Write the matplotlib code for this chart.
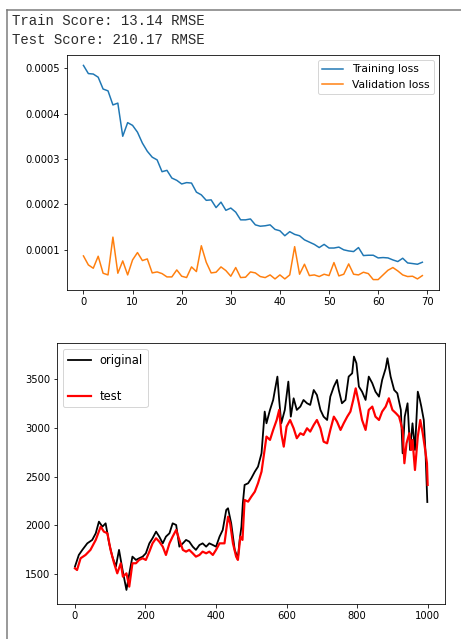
import matplotlib
matplotlib.use("Agg")
import matplotlib.pyplot as plt
from matplotlib.lines import Line2D

# training history (per epoch)
train_loss = [0.000506, 0.000488, 0.000487, 0.000480, 0.000454, 0.000450, 0.000419, 0.000423,
              0.000350, 0.000380, 0.000374, 0.000359, 0.000335, 0.000317, 0.000304, 0.000298,
              0.000272, 0.000275, 0.000258, 0.000253, 0.000245, 0.000248, 0.000247, 0.000227,
              0.000221, 0.000209, 0.000210, 0.000193, 0.000205, 0.000187, 0.000192, 0.000183,
              0.000166, 0.000166, 0.000168, 0.000155, 0.000152, 0.000153, 0.000155, 0.000145,
              0.000142, 0.000131, 0.000140, 0.000134, 0.000131, 0.000122, 0.000117, 0.000112,
              0.000105, 0.000112, 0.000104, 0.000104, 0.000106, 0.000100, 0.0000976, 0.0000962,
              0.000105, 0.0000874, 0.0000881, 0.0000881, 0.0000822, 0.0000830, 0.0000822, 0.0000778,
              0.0000742, 0.0000815, 0.0000712, 0.0000698, 0.0000683, 0.0000727]
val_loss = [0.0000866, 0.0000668, 0.0000595, 0.0000859, 0.0000485, 0.0000448, 0.000128, 0.0000485,
            0.0000756, 0.0000448, 0.0000778, 0.0000940, 0.0000764, 0.0000800, 0.0000492, 0.0000514,
            0.0000477, 0.0000404, 0.0000404, 0.0000558, 0.0000419, 0.0000390, 0.0000624, 0.0000521,
            0.000109, 0.0000727, 0.0000492, 0.0000507, 0.0000624, 0.0000543, 0.0000419, 0.0000610,
            0.0000390, 0.0000397, 0.0000514, 0.0000492, 0.0000412, 0.0000389, 0.0000448, 0.0000360,
            0.0000448, 0.0000360, 0.0000448, 0.000107, 0.0000463, 0.0000683, 0.0000433, 0.0000448,
            0.0000412, 0.0000463, 0.0000433, 0.0000720, 0.0000426, 0.0000463, 0.0000690, 0.0000463,
            0.0000448, 0.0000507, 0.0000477, 0.0000345, 0.0000345, 0.0000448, 0.0000551, 0.0000610,
            0.0000536, 0.0000448, 0.0000412, 0.0000419, 0.0000360, 0.0000433]

# closing prices over the test window
orig_day = [0, 11, 21, 35, 49, 59, 68, 78, 87, 97, 106, 116, 125, 135, 146, 156, 163, 173, 182, 192,
            201, 211, 220, 230, 239, 249, 258, 268, 277, 287, 296, 306, 315, 324, 334, 343, 353, 362,
            372, 381, 391, 400, 410, 419, 429, 434, 443, 453, 462, 467, 472, 476, 481, 491, 500, 510,
            519, 529, 534, 538, 543, 553, 562, 567, 574, 579, 585, 595, 605, 612, 620, 629, 639, 648,
            658, 667, 677, 686, 696, 705, 715, 724, 734, 743, 748, 757, 767, 776, 786, 791, 798, 805,
            814, 824, 833, 843, 852, 862, 871, 881, 886, 895, 905, 914, 924, 929, 935, 943, 950, 957,
            964, 972, 977, 982, 989, 994, 999]
orig_price = [1578, 1698, 1750, 1817, 1852, 1920, 2039, 1988, 2022, 1817, 1681, 1578, 1750, 1544, 1340,
              1544, 1681, 1647, 1664, 1681, 1715, 1817, 1869, 1937, 1886, 1817, 1886, 1920, 2022, 2005,
              1783, 1817, 1852, 1835, 1783, 1750, 1800, 1817, 1783, 1817, 1800, 1783, 1886, 1954, 2159,
              2176, 2022, 1750, 1664, 1852, 1988, 2227, 2415, 2432, 2483, 2551, 2602, 2739, 2978, 3166,
              3046, 3183, 3285, 3387, 3524, 3285, 3046, 3183, 3473, 3114, 3302, 3183, 3217, 3285, 3251,
              3234, 3387, 3336, 3183, 3114, 3080, 3319, 3422, 3490, 3387, 3251, 3285, 3524, 3558, 3729,
              3661, 3422, 3370, 3285, 3524, 3456, 3370, 3319, 3490, 3609, 3712, 3524, 3387, 3353, 3183,
              2739, 3114, 3251, 2773, 3046, 2773, 3370, 3302, 3217, 3080, 2739, 2240]

# model predictions over the same window
test_day = [0, 6, 16, 30, 44, 59, 73, 82, 92, 101, 111, 120, 130, 136, 146, 154, 163, 173, 182, 192,
            201, 211, 220, 230, 239, 249, 258, 268, 277, 287, 296, 306, 315, 324, 334, 343, 353, 362,
            372, 381, 391, 400, 410, 424, 434, 440, 448, 457, 462, 469, 475, 481, 491, 500, 510, 519,
            529, 535, 543, 553, 562, 572, 579, 585, 592, 600, 610, 620, 629, 639, 648, 658, 667, 677,
            686, 696, 705, 715, 724, 734, 743, 753, 762, 772, 781, 789, 796, 805, 814, 824, 833, 843,
            852, 862, 871, 881, 890, 900, 910, 919, 929, 934, 940, 948, 953, 957, 964, 972, 979, 986,
            993, 998, 1000]
test_price = [1561, 1544, 1664, 1698, 1750, 1852, 1988, 1937, 1920, 1750, 1613, 1510, 1613, 1476, 1510,
              1374, 1613, 1613, 1647, 1664, 1647, 1732, 1817, 1869, 1835, 1783, 1698, 1817, 1886, 1954,
              1852, 1750, 1732, 1750, 1715, 1681, 1698, 1732, 1715, 1732, 1698, 1750, 1817, 1817, 2090,
              2022, 1817, 1681, 1647, 1886, 1852, 2261, 2244, 2295, 2346, 2432, 2551, 2705, 2910, 2876,
              2978, 3080, 3183, 2944, 2807, 3012, 3080, 2995, 2893, 2944, 2927, 2995, 2961, 3029, 3080,
              2995, 2858, 2841, 2978, 3114, 3063, 2978, 3046, 3114, 3166, 3285, 3404, 3251, 3080, 2978,
              3183, 3217, 3114, 3080, 3166, 3217, 3302, 3183, 3149, 3114, 2978, 2637, 2841, 2944, 2773,
              2876, 2568, 2910, 3080, 2944, 2773, 2637, 2415]

score_lines = ["Train Score: 13.14 RMSE", "Test Score: 210.17 RMSE"]

W, H = 461, 639
fig = plt.figure(figsize=(W / 72, H / 72), dpi=72)

# notebook output text
fig.text(12.5 / W, 1 - 25 / H, score_lines[0], family="Liberation Mono", fontsize=14, color="#2b2b2b")
fig.text(12.5 / W, 1 - 43.5 / H, score_lines[1], family="Liberation Mono", fontsize=14, color="#2b2b2b")

# output cell frame
fig.add_artist(Line2D([7 / W, 7 / W], [0, 1 - 10 / H], transform=fig.transFigure, color="#7a7a7a", lw=1.5))
fig.add_artist(Line2D([7 / W, 1], [1 - 10 / H, 1 - 10 / H], transform=fig.transFigure, color="#7a7a7a", lw=1.5))

# loss curves
ax1 = fig.add_axes([66.5 / W, 1 - 290.3 / H, (439.3 - 66.5) / W, (290.3 - 54.7) / H])
ax1.plot(range(len(train_loss)), train_loss, label="Training loss")
ax1.plot(range(len(val_loss)), val_loss, label="Validation loss")
ax1.set_xticks([0, 10, 20, 30, 40, 50, 60, 70])
ax1.set_yticks([0.0001, 0.0002, 0.0003, 0.0004, 0.0005])
ax1.legend(loc="upper right", fontsize=10.7)

# price vs prediction
ax2 = fig.add_axes([57.3 / W, 1 - 604 / H, (445.3 - 57.3) / W, (604 - 343.3) / H])
ax2.plot(orig_day, orig_price, color="black", lw=1.8, label="original")
ax2.plot(test_day, test_price, color="red", lw=2.2, label="test")
ax2.set_ylim(1196, 3865)
ax2.set_xticks([0, 200, 400, 600, 800, 1000])
ax2.set_yticks([1500, 2000, 2500, 3000, 3500])
ax2.legend(loc="upper left", fontsize=11.5, labelspacing=2.0)

fig.savefig("out.png", dpi=72)
